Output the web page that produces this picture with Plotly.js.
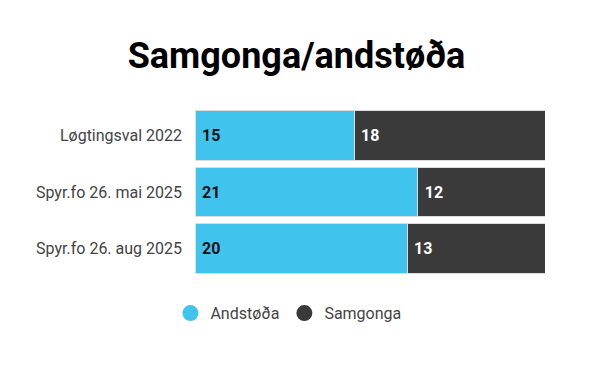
<!DOCTYPE html>
<html>
<head>
<meta charset="utf-8">
<script src="https://cdn.plot.ly/plotly-3.0.1.min.js"></script>
<style>html,body{margin:0;padding:0;background:#fff;}#chart{width:615px;height:368px;}</style>
</head>
<body>
<div id="chart"></div>
<script>
const categories = ["Løgtingsval 2022", "Spyr.fo 26. mai 2025", "Spyr.fo 26. aug 2025"];
const andstoda = [15, 21, 20];
const samgonga = [18, 12, 13];
const seriesNames = ["Andstøða", "Samgonga"];
const colors = ["#40C4EE", "#3A3A3A"];

const pad = "\u00a0";
const traces = [
  {
    type: "bar", orientation: "h", name: seriesNames[0],
    y: categories, x: andstoda, text: andstoda.map(v => pad + v),
    textposition: "inside", insidetextanchor: "start",
    textfont: {family: "Roboto", size: 16, color: "#111", weight: "bold"},
    marker: {color: colors[0], line: {color: "#dcdcdc", width: 1}},
    showlegend: false, hoverinfo: "x+y"
  },
  {
    type: "bar", orientation: "h", name: seriesNames[1],
    y: categories, x: samgonga, text: samgonga.map(v => pad + v),
    textposition: "inside", insidetextanchor: "start",
    textfont: {family: "Roboto", size: 16, color: "#ffffff", weight: "bold"},
    marker: {color: colors[1], line: {color: "#dcdcdc", width: 1}},
    showlegend: false, hoverinfo: "x+y"
  },
  {type: "scatter", mode: "markers", name: seriesNames[0], x: [null], y: [null],
   marker: {color: colors[0], size: 16, symbol: "circle"}, showlegend: true},
  {type: "scatter", mode: "markers", name: seriesNames[1], x: [null], y: [null],
   marker: {color: colors[1], size: 16, symbol: "circle"}, showlegend: true}
];

const layout = {
  width: 615, height: 368,
  paper_bgcolor: "#ffffff", plot_bgcolor: "rgba(0,0,0,0)",
  font: {family: "Roboto", size: 16, color: "#444"},
  title: {text: "<b>Samgonga/andstøða</b>", font: {family: "Roboto", size: 36, color: "#000", weight: 900},
          x: 0.482, xanchor: "center", y: 0.85, yanchor: "middle", xref: "container", yref: "container"},
  barmode: "stack",
  bargap: 0.123,
  margin: {l: 195, r: 70, t: 106.5, b: 90.5, pad: 0},
  xaxis: {range: [0, 33], visible: false, showgrid: false, zeroline: false, fixedrange: true},
  yaxis: {autorange: "reversed", showgrid: false, zeroline: false, showline: false,
          ticks: "", ticklabelstandoff: 12, tickfont: {family: "Roboto", size: 16, color: "#444"}},
  showlegend: true,
  legend: {orientation: "h", traceorder: "normal", xref: "container", yref: "container", x: 0.469, xanchor: "center",
           y: 0.149, yanchor: "middle", font: {family: "Roboto", size: 16, color: "#444"},
           itemwidth: 30, itemclick: false, itemdoubleclick: false}
};

Plotly.newPlot("chart", traces, layout, {displayModeBar: false, staticPlot: true});
</script>
</body>
</html>
